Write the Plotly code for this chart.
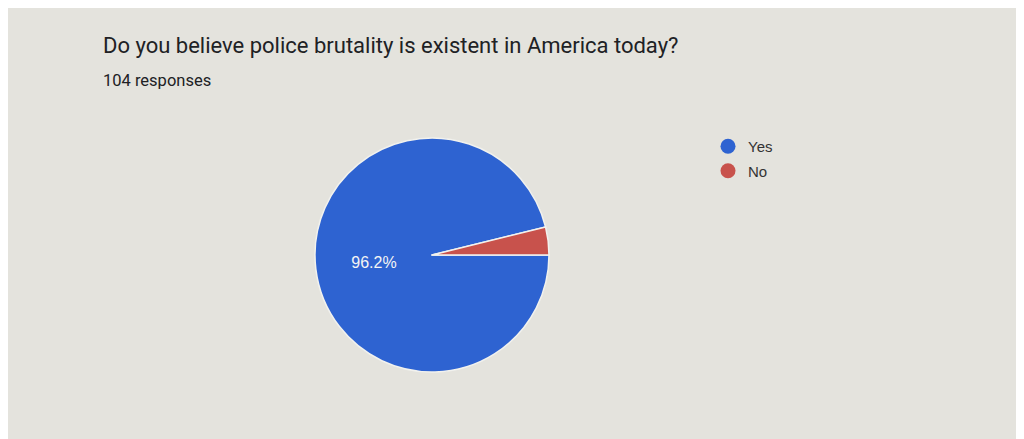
import plotly.graph_objects as go

labels = ["Yes", "No"]
counts = [100, 4]
colors = ["#2e63d1", "#c8524c"]
slice_text = ["%{percent:.1%}", ""]

title = "Do you believe police brutality is existent in America today?"
subtitle = "104 responses"

W, H = 1024, 439
OFF = 8  # page body margin shifts the figure by this many px


def px_x(v):
    return (v - OFF) / W


def px_y(v):
    return 1 - (v - OFF) / H


fig = go.Figure()

fig.add_trace(go.Pie(
    labels=labels,
    values=counts,
    marker=dict(colors=colors, line=dict(color="#f2f2ee", width=1.5)),
    sort=False,
    direction="clockwise",
    rotation=90,
    texttemplate=slice_text,
    textposition="inside",
    insidetextorientation="horizontal",
    insidetextfont=dict(family="Liberation Sans, Arial", size=16, color="#f4f4f4"),
    showlegend=False,
    hoverinfo="label+percent",
    domain=dict(x=[px_x(315), px_x(549)], y=[px_y(372), px_y(138)]),
))

# legend entries with round markers like the Google Forms chart
for lab, col in zip(labels, colors):
    fig.add_trace(go.Scatter(
        x=[None], y=[None], mode="markers", name=lab, legendgroup=lab,
        marker=dict(symbol="circle", size=15, color=col),
    ))

fig.add_annotation(text=title, x=px_x(101), y=px_y(45), xref="paper", yref="paper",
                   xanchor="left", yanchor="middle", showarrow=False,
                   font=dict(family="Roboto", size=22, color="#202124"))
fig.add_annotation(text=subtitle, x=px_x(101), y=px_y(80), xref="paper", yref="paper",
                   xanchor="left", yanchor="middle", showarrow=False,
                   font=dict(family="Roboto", size=16.5, color="#202124"))

fig.update_layout(
    width=W, height=H,
    margin=dict(l=0, r=0, t=0, b=0),
    paper_bgcolor="#e4e3dd",
    plot_bgcolor="#e4e3dd",
    xaxis=dict(visible=False),
    yaxis=dict(visible=False),
    legend=dict(x=px_x(708), y=px_y(130), xanchor="left", yanchor="top",
                traceorder="grouped", tracegroupgap=2,
                bgcolor="rgba(0,0,0,0)",
                font=dict(family="Liberation Sans, Arial", size=15, color="#333333"),
                itemwidth=30),
)

fig.write_html("out.html")
